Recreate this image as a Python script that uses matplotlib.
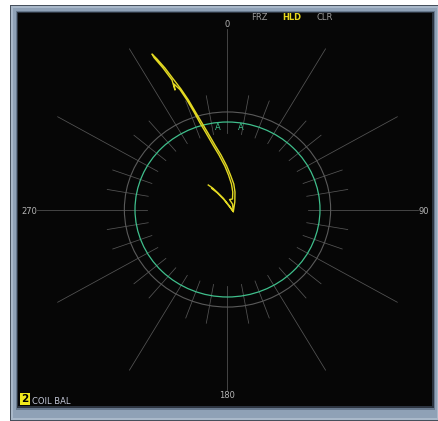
import numpy as np
import matplotlib
matplotlib.use('Agg')
import matplotlib.pyplot as plt
from matplotlib.patches import Rectangle, Ellipse

plt.rcParams['font.family'] = ['DejaVu Sans']

# 轨迹数据 (水平分量, 垂直分量), 以绿色参考圆半径为 1
trace_x = [-0.208, -0.162, -0.117, -0.045, 0.027, 0.063,
           0.079, 0.081, 0.068, 0.032, -0.008, -0.070, -0.130, -0.211, -0.276,
           -0.346, -0.422, -0.503, -0.586, -0.676, -0.762, -0.816,
           -0.795, -0.697, -0.600, -0.568, -0.578, -0.514, -0.438, -0.362,
           -0.297, -0.232, -0.151, -0.092, -0.029, 0.011, 0.043, 0.057,
           0.054, 0.022, 0.054, 0.063, 0.030, -0.040, -0.110, -0.170]
trace_y = [0.280, 0.246, 0.203, 0.128, 0.032, -0.025,
           0.086, 0.200, 0.291, 0.394, 0.497, 0.623, 0.726, 0.874, 0.989,
           1.114, 1.251, 1.377, 1.491, 1.617, 1.720, 1.777,
           1.737, 1.617, 1.480, 1.366, 1.434, 1.371, 1.251, 1.114,
           0.989, 0.874, 0.726, 0.623, 0.497, 0.394, 0.291, 0.200,
           0.120, 0.114, 0.063, -0.025, 0.020, 0.115, 0.190, 0.240]

# 报警框标记位置
alarm_x = [-0.106, 0.146]
alarm_y = [0.935, 0.935]

angle_labels = ['0', '90', '180', '270']
ref_radius = 1.0
outer_radius = 1.115

fig = plt.figure(figsize=(4.38, 4.21), dpi=100)
fig.patch.set_facecolor('white')

# 外框 (像素坐标)
bg = fig.add_axes([0, 0, 1, 1])
bg.set_xlim(0, 438)
bg.set_ylim(421, 0)
bg.axis('off')
bg.add_patch(Rectangle((10, 5), 428, 416, facecolor='#46505c', edgecolor='none'))
bg.add_patch(Rectangle((11, 6), 427, 414, facecolor='#a9b8c9', edgecolor='none'))
bg.add_patch(Rectangle((13, 8), 424, 410, facecolor='#8fa1b6', edgecolor='none'))
bg.add_patch(Rectangle((16, 11), 419, 399, facecolor='#68798d', edgecolor='none'))
bg.add_patch(Rectangle((17, 12), 417, 396, facecolor='#2c3440', edgecolor='none'))

# 主显示区
ax = fig.add_axes([18 / 438, (421 - 406) / 421, 414 / 438, 393 / 421])
ax.set_facecolor('#060606')
ax.set_xlim(-2.265, 2.211)
ax.set_ylim(-2.246, 2.246)
ax.set_xticks([])
ax.set_yticks([])
for s in ax.spines.values():
    s.set_visible(False)

# 辐射线
grid_col = '#555555'
for a in range(0, 360, 10):
    if a % 90 == 0:
        r_out = 2.06
    elif a % 30 == 0:
        r_out = 2.12
    else:
        r_out = 1.32
    t = np.deg2rad(a)
    ax.plot([0.87 * np.sin(t), r_out * np.sin(t)],
            [0.87 * np.cos(t), r_out * np.cos(t)],
            color=grid_col, lw=0.55, zorder=1)

ax.add_patch(Ellipse((0, 0), 2 * outer_radius, 2 * outer_radius, fill=False,
                     edgecolor='#5a5a5a', lw=0.8, zorder=2))
ax.add_patch(Ellipse((0, 0), 2 * ref_radius, 2 * ref_radius, fill=False,
                     edgecolor='#3fbf8c', lw=0.9, zorder=3))

for xa, ya in zip(alarm_x, alarm_y):
    ax.text(xa, ya, 'A', color='#3fbf8c', fontsize=6, ha='center', va='center', zorder=4)

# 角度标签
label_pos = [(0, 2.12), (2.124, -0.02), (0, -2.13), (-2.14, -0.02)]
for lab, (lx, ly) in zip(angle_labels, label_pos):
    ax.text(lx, ly, lab, color='#b4b4b4', fontsize=6, ha='center', va='center', zorder=4)

# 轨迹
ax.plot(trace_x, trace_y, color='#e2d822', lw=1.0, zorder=5, solid_joinstyle='round')

# 顶部按钮与底部标识
tr = bg.transData
ax.text(259, 17, 'FRZ', color='#9a9a9a', fontsize=6, ha='center', va='center', transform=tr)
ax.text(291.5, 17, 'HLD', color='#e8d81c', fontsize=6, fontweight='bold',
        ha='center', va='center', transform=tr)
ax.text(324.5, 17, 'CLR', color='#9a9a9a', fontsize=6, ha='center', va='center', transform=tr)
ax.text(25, 399, '2', color='black', fontsize=7.5, fontweight='bold', ha='center', va='center',
        transform=tr, bbox=dict(boxstyle='square,pad=0.12', facecolor='#f0e81c', edgecolor='none'))
ax.text(32, 401.5, 'COIL BAL', color='#c4c8d8', fontsize=6, ha='left', va='center', transform=tr)

fig.savefig('out.png', dpi=100, facecolor=fig.get_facecolor())
